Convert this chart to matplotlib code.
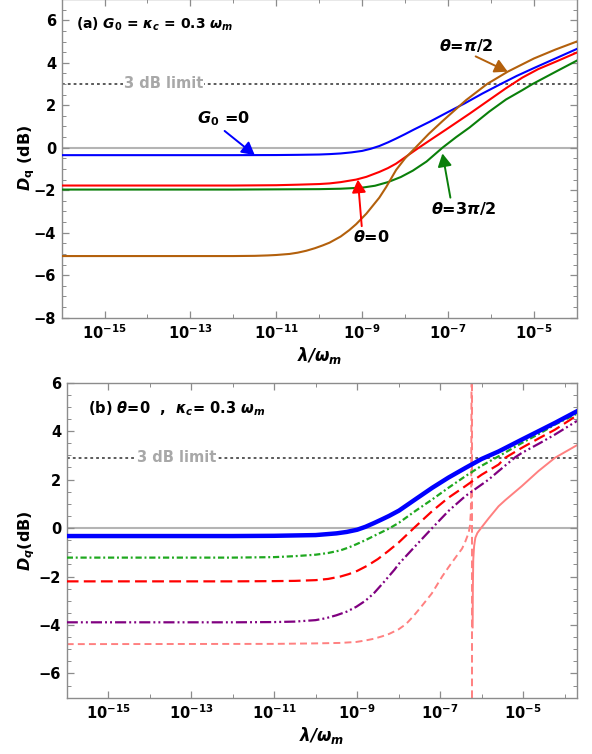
import numpy as np
import matplotlib
matplotlib.use('Agg')
import matplotlib.pyplot as plt
from matplotlib.ticker import FixedLocator, FuncFormatter, MultipleLocator

plt.rcParams['font.family'] = ['DejaVu Sans']
plt.rcParams['mathtext.fontset'] = 'dejavusans'
plt.rcParams['lines.scale_dashes'] = False

# ---- panel (a): G0 = kappa_c = 0.3 w_m, different phases theta ----
a_blue_x = [-16, -12, -11, -10.5, -10, -9.75, -9.5, -9.25, -9.0, -8.8, -8.6, -8.4, -8.21, -8.0,
            -7.8, -7.43, -7.0, -6.6, -6.2, -5.8, -5.4, -5.0, -4.5, -4.0]
a_blue_y = [-0.35, -0.35, -0.345, -0.335, -0.32, -0.3, -0.27, -0.22, -0.15, -0.05, 0.08, 0.25, 0.43, 0.64,
            0.85, 1.22, 1.68, 2.1, 2.55, 2.97, 3.38, 3.75, 4.2, 4.65]

a_red_x = [-16, -12, -11, -10.5, -10, -9.76, -9.5, -9.14, -8.9, -8.6, -8.4, -8.21, -7.95, -7.68,
           -7.4, -7.05, -6.5, -6.04, -5.65, -5.27, -4.9, -4.49, -4.0]
a_red_y = [-1.78, -1.78, -1.765, -1.74, -1.71, -1.68, -1.62, -1.5, -1.37, -1.14, -0.96, -0.75, -0.38, 0.0,
           0.38, 0.85, 1.6, 2.25, 2.8, 3.3, 3.7, 4.05, 4.48]

a_green_x = [-16, -12, -11, -10, -9.5, -9.0, -8.7, -8.4, -8.1, -7.82, -7.5, -7.13, -6.81,
             -6.5, -6.04, -5.65, -5.27, -5.03, -4.49, -4.0]
a_green_y = [-1.97, -1.97, -1.96, -1.95, -1.93, -1.88, -1.79, -1.62, -1.38, -1.08, -0.65, 0.0, 0.5,
             0.95, 1.7, 2.27, 2.71, 3.0, 3.58, 4.1]

a_brown_x = [-16, -12, -11.5, -11.2, -11, -10.69, -10.5, -10.3, -10.1, -9.92, -9.76, -9.5, -9.3,
             -9.14, -8.9, -8.6, -8.44, -8.21, -8.0, -7.76, -7.45, -7.13, -6.58, -6.09, -5.61,
             -5.0, -4.5, -4.0]
a_brown_y = [-5.1, -5.1, -5.09, -5.07, -5.05, -5.0, -4.94, -4.85, -4.73, -4.6, -4.47, -4.18, -3.88,
             -3.6, -3.1, -2.35, -1.85, -1.05, -0.5, 0.0, 0.65, 1.25, 2.24, 3.0, 3.58,
             4.2, 4.62, 5.0]

# ---- panel (b): theta = 0, kappa_c = 0.3 w_m ----
b_blue_x = [-16, -12, -11, -10, -9.5, -9.25, -9.0, -8.8, -8.6, -8.4, -8.23, -7.99, -7.6, -7.19,
            -6.8, -6.39, -6.0, -5.59, -5.03, -4.6, -4.23, -3.7]
b_blue_y = [-0.33, -0.33, -0.32, -0.29, -0.22, -0.16, -0.07, 0.05, 0.2, 0.36, 0.5, 0.72, 1.18, 1.66,
            2.08, 2.48, 2.85, 3.16, 3.65, 4.02, 4.34, 4.82]

b_green_x = [-16, -12, -11, -10.5, -10, -9.7, -9.4, -9.2, -9.02, -8.8, -8.6, -8.23, -7.99, -7.6,
             -7.19, -6.8, -6.39, -6.0, -5.59, -5.03, -4.6, -4.23, -3.7]
b_green_y = [-1.22, -1.22, -1.2, -1.16, -1.1, -1.03, -0.92, -0.8, -0.67, -0.5, -0.33, -0.02, 0.22, 0.7,
             1.18, 1.66, 2.14, 2.57, 2.96, 3.51, 3.9, 4.27, 4.72]

b_red_x = [-16, -12, -11, -10.5, -10, -9.7, -9.4, -9.2, -9.0, -8.75, -8.5, -8.25, -8.0, -7.6,
           -7.19, -6.8, -6.39, -6.0, -5.59, -5.43, -5.03, -4.6, -4.23, -3.7]
b_red_y = [-2.2, -2.2, -2.19, -2.18, -2.15, -2.1, -2.0, -1.9, -1.77, -1.55, -1.28, -0.95, -0.6, 0.05,
           0.7, 1.25, 1.73, 2.2, 2.62, 2.9, 3.31, 3.72, 4.06, 4.65]

b_purple_x = [-16, -12, -11, -10.5, -10, -9.75, -9.5, -9.25, -9.02, -8.8, -8.6, -8.35, -8.1,
              -7.99, -7.6, -7.19, -6.8, -6.39, -5.83, -5.59, -5.19, -5.03, -4.6, -4.23, -3.7]
b_purple_y = [-3.89, -3.89, -3.88, -3.86, -3.8, -3.72, -3.6, -3.45, -3.25, -3.0, -2.7, -2.22, -1.72,
              -1.47, -0.75, 0.0, 0.7, 1.32, 2.0, 2.35, 2.92, 3.1, 3.5, 3.86, 4.42]

b_pink_dash_x = [-16, -11, -10, -9.4, -9.02, -8.8, -8.6, -8.4, -8.23, -8.0, -7.82, -7.65, -7.47,
                 -7.2, -6.95, -6.79, -6.6, -6.47, -6.39, -6.31, -6.28, -6.26, -6.25, -6.24]
b_pink_dash_y = [-4.79, -4.78, -4.76, -4.74, -4.7, -4.64, -4.57, -4.47, -4.37, -4.18, -3.96, -3.65, -3.28,
                 -2.7, -2.0, -1.6, -1.15, -0.85, -0.55, -0.19, 0.1, 0.6, 1.5, 7.5]

b_pink_solid_x = [-6.215, -6.21, -6.2, -6.18, -6.15, -6.1, -5.99, -5.83, -5.59, -5.43,
                  -5.03, -4.63, -4.23, -3.7]
b_pink_solid_y = [-4.1, -2.5, -1.3, -0.75, -0.4, -0.2, 0.05, 0.4, 0.9, 1.15,
                  1.73, 2.35, 2.9, 3.42]

pole_log = -6.235
limit_a = 3.0
limit_b = 2.9

GRID = '#b4b4b4'
FRAME = '#8c8c8c'


def lam(v):
    return 10.0 ** np.asarray(v)


def style_axes(ax, xlim, ylim):
    ax.set_xscale('log')
    ax.set_xlim(*xlim)
    ax.set_ylim(*ylim)
    ax.xaxis.set_major_locator(FixedLocator([10.0 ** k for k in range(-15, -3, 2)]))
    ax.xaxis.set_minor_locator(FixedLocator([10.0 ** k for k in range(-16, -2, 2)]))
    ax.xaxis.set_major_formatter(FuncFormatter(lambda v, p: r'$\mathbf{10^{%d}}$' % round(np.log10(v))))
    ax.xaxis.set_minor_formatter(FuncFormatter(lambda v, p: ''))
    ax.yaxis.set_major_locator(MultipleLocator(2))
    ax.yaxis.set_minor_locator(MultipleLocator(0.5))
    ax.tick_params(which='both', direction='in', top=True, right=True, color=FRAME)
    ax.tick_params(which='major', length=5, width=0.9, labelsize=10.5, pad=4)
    ax.tick_params(which='minor', length=2.8, width=0.7)
    for lab in ax.get_yticklabels():
        lab.set_fontweight('bold')
    for s in ax.spines.values():
        s.set_color(FRAME)
        s.set_linewidth(1.0)
    ax.axhline(0, color=GRID, lw=1.5, zorder=1)


fig = plt.figure(figsize=(5.92, 7.54), dpi=100)

# ---------------- panel (a) ----------------
ax1 = fig.add_axes([0.104, 0.5787, 0.8704, 0.4226])
style_axes(ax1, (1e-16, 1e-4), (-8, 7))
ax1.axhline(limit_a, color='#5a5a5a', lw=1.4, ls=(0, (2.0, 2.2)), zorder=1)
ax1.text(10 ** -13.63, limit_a, '3 dB limit', color='#a8a8a8', fontsize=10.5, fontweight='bold',
         ha='center', va='center', bbox=dict(facecolor='white', edgecolor='none', pad=0.5), zorder=2)

ax1.plot(lam(a_blue_x), a_blue_y, color='#0000ff', lw=1.5, zorder=3)
ax1.plot(lam(a_red_x), a_red_y, color='#ff0000', lw=1.5, zorder=3)
ax1.plot(lam(a_green_x), a_green_y, color='#0a7f0a', lw=1.5, zorder=3)
ax1.plot(lam(a_brown_x), a_brown_y, color='#b3600c', lw=1.5, zorder=3)

arrow = dict(arrowstyle='-|>,head_length=0.55,head_width=0.3', lw=1.4, shrinkA=0, shrinkB=0,
             mutation_scale=14)
ax1.annotate(r'$\mathbfit{G}_\mathbf{0}$ =0', xy=(10 ** -11.5, -0.35), xytext=(10 ** -12.85, 0.92),
             fontsize=11.5, fontweight='bold', ha='left', va='bottom',
             arrowprops=dict(arrow, color='#0000ff', relpos=(0.46, 0.0)), zorder=4)
ax1.annotate(r'$\mathbfit{\theta}$=$\mathbfit{\pi}$/2', xy=(10 ** -5.61, 3.58), xytext=(10 ** -6.58, 4.83),
             fontsize=11.5, fontweight='bold', ha='center', va='center',
             arrowprops=dict(arrow, color='#b3600c', relpos=(0.57, 0.0)), zorder=4)
ax1.annotate(r'$\mathbfit{\theta}$=0', xy=(10 ** -9.1, -1.5), xytext=(10 ** -8.79, -4.2),
             fontsize=11.5, fontweight='bold', ha='center', va='center',
             arrowprops=dict(arrow, color='#ff0000', relpos=(0.25, 1.0)), zorder=4)
ax1.annotate(r'$\mathbfit{\theta}$=3$\mathbfit{\pi}$/2', xy=(10 ** -7.13, -0.27), xytext=(10 ** -6.63, -2.88),
             fontsize=11.5, fontweight='bold', ha='center', va='center',
             arrowprops=dict(arrow, color='#0a7f0a', relpos=(0.3, 1.0)), zorder=4)

ax1.text(10 ** -15.67, 5.83, r'(a) $\mathbfit{G}_\mathbf{0}$ = $\mathbfit{\kappa_c}$ = 0.3 $\mathbfit{\omega_m}$',
         fontsize=10, fontweight='bold', ha='left', va='center')
ax1.set_ylabel(r'$\mathbfit{D}_\mathbf{q}$ (dB)', fontsize=11.5, fontweight='bold')
ax1.yaxis.set_label_coords(-0.048, 0.5)
ax1.set_xlabel(r'$\mathbfit{\lambda/\omega_m}$', fontsize=12, labelpad=2)

# ---------------- panel (b) ----------------
ax2 = fig.add_axes([0.1127, 0.0747, 0.862, 0.4178])
style_axes(ax2, (1e-16, 2e-4), (-7, 6))
ax2.axhline(limit_b, color='#5a5a5a', lw=1.4, ls=(0, (2.0, 2.2)), zorder=1)
ax2.text(10 ** -13.35, limit_b, '3 dB limit', color='#a8a8a8', fontsize=10.5, fontweight='bold',
         ha='center', va='center', bbox=dict(facecolor='white', edgecolor='none', pad=0.5), zorder=2)

ax2.axvline(10 ** pole_log, color='#ff8080', lw=1.4, ls=(0, (5.5, 3.0)), zorder=2)
ax2.plot(lam(b_pink_dash_x), b_pink_dash_y, color='#ff8080', lw=1.4, ls=(0, (5.0, 3.0)), zorder=2)
ax2.plot(lam(b_pink_solid_x), b_pink_solid_y, color='#ff8080', lw=1.4, zorder=2)
ax2.plot(lam(b_purple_x), b_purple_y, color='#800080', lw=1.6,
         ls=(0, (8.0, 2.2, 1.4, 2.2, 1.4, 2.2)), zorder=3)
ax2.plot(lam(b_red_x), b_red_y, color='#ff0000', lw=1.6, ls=(0, (8.5, 3.8)), zorder=3)
ax2.plot(lam(b_green_x), b_green_y, color='#1fa81f', lw=1.6, ls=(0, (4.5, 2.0, 1.4, 2.0)), zorder=3)
ax2.plot(lam(b_blue_x), b_blue_y, color='#0000ff', lw=3.2, zorder=4)

ax2.text(10 ** -15.49, 4.94, r'(b) $\mathbfit{\theta}$=0  ,  $\mathbfit{\kappa_c}$= 0.3 $\mathbfit{\omega_m}$',
         fontsize=10.5, fontweight='bold', ha='left', va='center')
ax2.set_ylabel(r'$\mathbfit{D_q}$(dB)', fontsize=11.5, fontweight='bold')
ax2.yaxis.set_label_coords(-0.058, 0.5)
ax2.set_xlabel(r'$\mathbfit{\lambda/\omega_m}$', fontsize=12, labelpad=2)

fig.savefig('out.png', dpi=100)
